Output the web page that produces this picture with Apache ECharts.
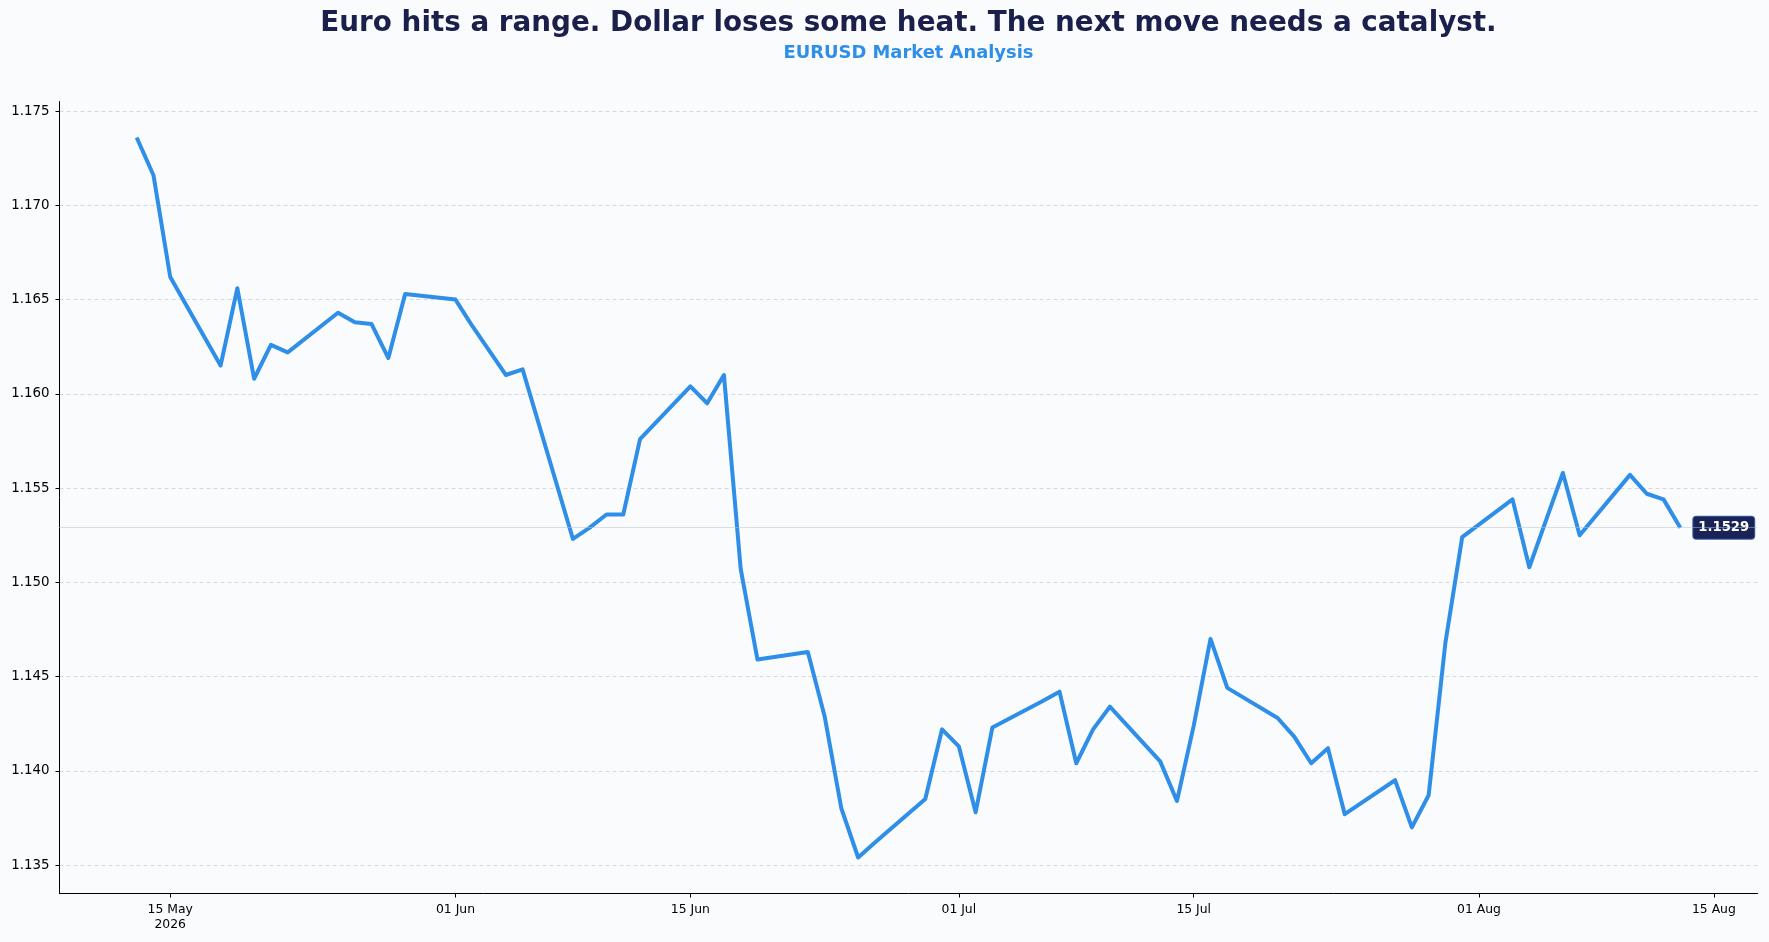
<!DOCTYPE html>
<html>
<head>
<meta charset="utf-8">
<title>EURUSD Market Analysis</title>
<script src="https://cdn.jsdelivr.net/npm/echarts@6/dist/echarts.min.js"></script>
<style>
  html, body { margin: 0; padding: 0; background: #f9fbfd; }
  #chart { width: 1769px; height: 942px; }
</style>
</head>
<body>
<div id="chart"></div>
<script>
// EURUSD daily closes, business days only
const dates = [
  '2026-05-13', '2026-05-14', '2026-05-15',
  '2026-05-18', '2026-05-19', '2026-05-20', '2026-05-21', '2026-05-22',
  '2026-05-25', '2026-05-26', '2026-05-27', '2026-05-28', '2026-05-29',
  '2026-06-01', '2026-06-02', '2026-06-03', '2026-06-04', '2026-06-05',
  '2026-06-08', '2026-06-09', '2026-06-10', '2026-06-11', '2026-06-12',
  '2026-06-15', '2026-06-16', '2026-06-17', '2026-06-18', '2026-06-19',
  '2026-06-22', '2026-06-23', '2026-06-24', '2026-06-25', '2026-06-26',
  '2026-06-29', '2026-06-30', '2026-07-01', '2026-07-02', '2026-07-03',
  '2026-07-06', '2026-07-07', '2026-07-08', '2026-07-09', '2026-07-10',
  '2026-07-13', '2026-07-14', '2026-07-15', '2026-07-16', '2026-07-17',
  '2026-07-20', '2026-07-21', '2026-07-22', '2026-07-23', '2026-07-24',
  '2026-07-27', '2026-07-28', '2026-07-29', '2026-07-30', '2026-07-31',
  '2026-08-03', '2026-08-04', '2026-08-05', '2026-08-06', '2026-08-07',
  '2026-08-10', '2026-08-11', '2026-08-12', '2026-08-13'
]
const closes = [
  1.1736, 1.1716, 1.1662,
  1.1615, 1.1656, 1.1608, 1.1626, 1.1622,
  1.1643, 1.1638, 1.1637, 1.1619, 1.1653,
  1.1650, 1.1636, 1.1623, 1.1610, 1.1613,
  1.1523, 1.1529, 1.1536, 1.1536, 1.1576,
  1.1604, 1.1595, 1.1610, 1.1507, 1.1459,
  1.1463, 1.1429, 1.1380, 1.1354, 1.1362,
  1.1385, 1.1422, 1.1413, 1.1378, 1.1423,
  1.1437, 1.1442, 1.1404, 1.1422, 1.1434,
  1.1405, 1.1384, 1.1424, 1.1470, 1.1444,
  1.1428, 1.1418, 1.1404, 1.1412, 1.1377,
  1.1395, 1.1370, 1.1387, 1.1468, 1.1524,
  1.1544, 1.1508, 1.1533, 1.1558, 1.1525,
  1.1557, 1.1547, 1.1544, 1.1529
]

// axis ticks
const xTicks = ['2026-05-15', '2026-06-01', '2026-06-15', '2026-07-01', '2026-07-15', '2026-08-01', '2026-08-15']
const xTickLabels = ['15 May\n2026', '01 Jun', '15 Jun', '01 Jul', '15 Jul', '01 Aug', '15 Aug']
const yTicks = [1.135, 1.140, 1.145, 1.150, 1.155, 1.160, 1.165, 1.170, 1.175]

const titleText = 'Euro hits a range. Dollar loses some heat. The next move needs a catalyst.'
const subtitleText = 'EURUSD Market Analysis'

const FONT = 'DejaVu Sans'
const LINE_COLOR = '#2f8fe8'

const toTime = s => Date.parse(s + 'T00:00:00Z')
const seriesData = dates.map((d, i) => [toTime(d), closes[i]])
const lastClose = closes[closes.length - 1]
const xTickTimes = xTicks.map(toTime)

// 5% padding on both axes, same as the original plot
const tFirst = seriesData[0][0]
const tLast = seriesData[seriesData.length - 1][0]
const xPad = (tLast - tFirst) * 0.05
const yLo = Math.min.apply(null, closes)
const yHi = Math.max.apply(null, closes)
const yPad = (yHi - yLo) * 0.05

const grid = { left: 59.5, right: 11.5, top: 101.5, bottom: 48.5 }
// titles are centred over the plot area, not the page
const titleX = grid.left + (1769 - grid.left - grid.right) / 2

let chart = echarts.init(document.getElementById('chart'))

let option = {
  backgroundColor: '#f9fbfd',
  animation: false,
  title: [
    {
      text: titleText,
      left: titleX,
      top: 10,
      textAlign: 'center',
      padding: 0,
      textStyle: { fontFamily: FONT, fontSize: 27.8, fontWeight: 'bold', color: '#1b1f4b' }
    },
    {
      text: subtitleText,
      left: titleX,
      top: 44.5,
      textAlign: 'center',
      padding: 0,
      textStyle: { fontFamily: FONT, fontSize: 17.9, fontWeight: 'bold', color: LINE_COLOR }
    }
  ],
  grid: grid,
  xAxis: {
    type: 'value',
    min: tFirst - xPad,
    max: tLast + xPad,
    axisLine: { show: true, lineStyle: { color: '#000', width: 1 } },
    axisTick: { show: true, length: 4, customValues: xTickTimes, lineStyle: { color: '#000' } },
    axisLabel: {
      customValues: xTickTimes,
      margin: 9,
      fontFamily: FONT,
      fontSize: 12.4,
      lineHeight: 15,
      color: '#000',
      formatter: function (v) {
        let i = xTickTimes.indexOf(v)
        return i >= 0 ? xTickLabels[i] : ''
      }
    },
    splitLine: { show: false }
  },
  yAxis: {
    type: 'value',
    min: yLo - yPad,
    max: yHi + yPad,
    axisLine: { show: true, lineStyle: { color: '#000', width: 1 } },
    axisTick: { show: true, length: 4, customValues: yTicks, lineStyle: { color: '#000' } },
    axisLabel: {
      customValues: yTicks,
      margin: 10,
      fontFamily: FONT,
      fontSize: 13.4,
      color: '#000',
      formatter: v => v.toFixed(3)
    },
    splitLine: {
      show: true,
      lineStyle: { color: '#d3d9e1', width: 1, type: [4, 3] }
    }
  },
  series: [
    {
      type: 'line',
      data: seriesData,
      showSymbol: false,
      lineStyle: { color: LINE_COLOR, width: 4, join: 'round' },
      endLabel: {
        show: true,
        distance: 13,
        formatter: () => lastClose.toFixed(4),
        fontFamily: FONT,
        fontSize: 13.2,
        fontWeight: 'bold',
        color: '#fff',
        backgroundColor: '#1a2356',
        borderColor: '#3a5fb0',
        borderWidth: 1,
        borderRadius: 3,
        padding: [5, 5, 4, 5]
      },
      markLine: {
        silent: true,
        // default precision is 2, which would snap the line to 1.15
        precision: 4,
        symbol: ['none', 'none'],
        label: { show: false },
        lineStyle: { color: '#b6c0cc', width: 1, type: 'dotted' },
        data: [{ yAxis: lastClose }]
      }
    }
  ]
}

chart.setOption(option)
</script>
</body>
</html>
